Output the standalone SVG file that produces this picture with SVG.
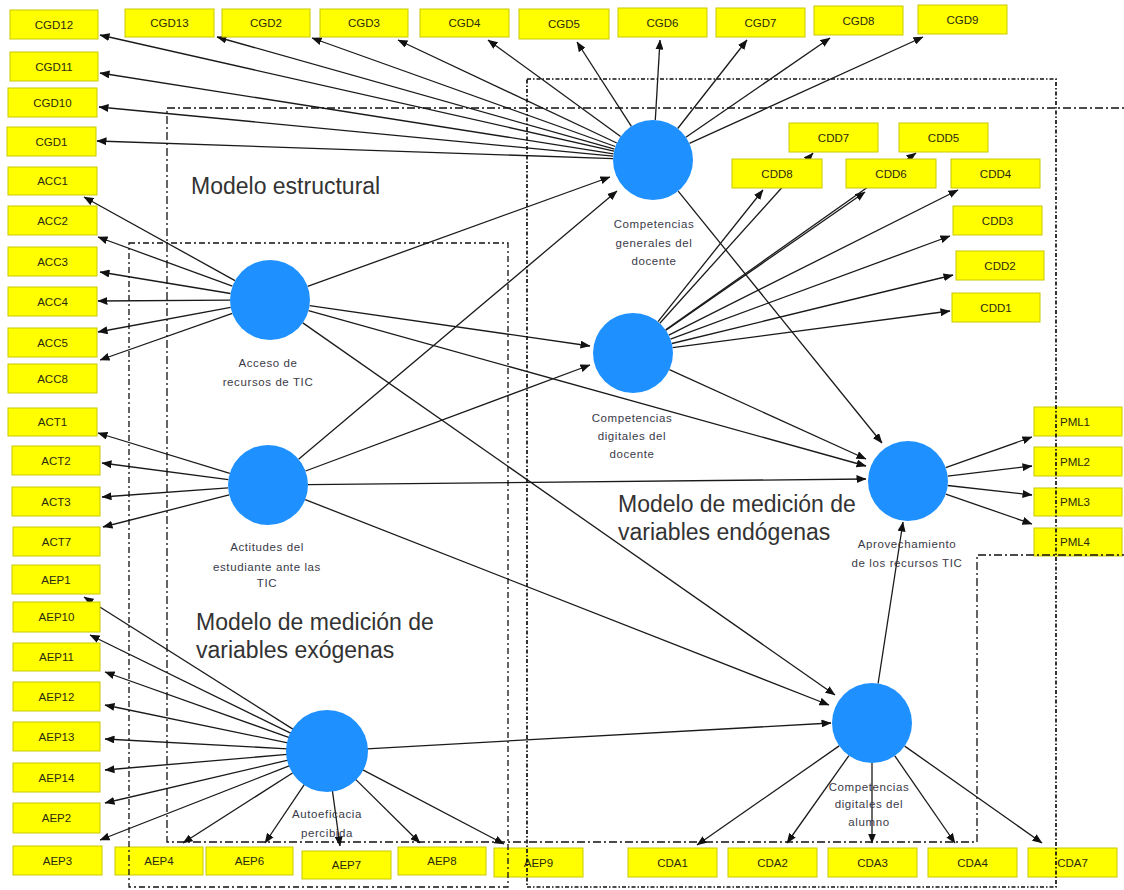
<svg xmlns="http://www.w3.org/2000/svg" width="1124" height="890" viewBox="0 0 1124 890">
<style>
.box{fill:#FFFF00;stroke:#C8C800;stroke-width:1}
.bt{font-family:"Liberation Sans",Arial,sans-serif;font-size:11.5px;fill:#2a2a10;text-anchor:middle}
.lv{fill:#1E90FF}
.cl{font-family:"Liberation Sans",Arial,sans-serif;font-size:11.5px;fill:#3a3a48;text-anchor:middle;letter-spacing:0.6px}
.big{font-family:"Liberation Sans",Arial,sans-serif;font-size:23px;fill:#333}
.c{stroke:#1a1a1a;stroke-width:1.3;fill:none;marker-end:url(#ah)}
.fr{fill:none;stroke:#111}
</style>
<defs>
<marker id="ah" markerWidth="10" markerHeight="8" refX="9.5" refY="4" orient="auto" markerUnits="userSpaceOnUse"><path d="M0,0 L10,4 L0,8 z" fill="#111"/></marker>
</defs>
<rect width="1124" height="890" fill="#fff"/>

<g id="labels">
<text class="big" x="191" y="194">Modelo estructural</text>
<text class="big" x="196" y="630">Modelo de medición de</text>
<text class="big" x="196" y="658">variables exógenas</text>
<text class="big" x="618" y="512">Modelo de medición de</text>
<text class="big" x="618" y="540">variables endógenas</text>
</g>

<g id="connectors">
<line class="c" x1="614" y1="151.2" x2="100" y2="35"/>
<line class="c" x1="614.5" y1="149.1" x2="217" y2="37"/>
<line class="c" x1="615.3" y1="146.5" x2="312" y2="38"/>
<line class="c" x1="616.8" y1="143" x2="398" y2="40"/>
<line class="c" x1="620.6" y1="136.5" x2="488" y2="40"/>
<line class="c" x1="631.4" y1="126.4" x2="577" y2="42"/>
<line class="c" x1="655.3" y1="120.1" x2="660" y2="40"/>
<line class="c" x1="677.7" y1="128.5" x2="747" y2="40"/>
<line class="c" x1="685.9" y1="137.3" x2="830" y2="38"/>
<line class="c" x1="689.4" y1="143.4" x2="923" y2="37"/>
<line class="c" x1="613.5" y1="153.8" x2="100" y2="73"/>
<line class="c" x1="613.2" y1="156.2" x2="99" y2="107"/>
<line class="c" x1="613" y1="158.6" x2="97" y2="141"/>
<line class="c" x1="235" y1="280.6" x2="84" y2="197"/>
<line class="c" x1="232.4" y1="286.2" x2="98" y2="237"/>
<line class="c" x1="230.5" y1="293.5" x2="100" y2="272"/>
<line class="c" x1="230" y1="300.2" x2="98" y2="301"/>
<line class="c" x1="230.7" y1="307.3" x2="98" y2="332"/>
<line class="c" x1="232.3" y1="313.3" x2="100" y2="360"/>
<line class="c" x1="307.6" y1="286.4" x2="610" y2="177"/>
<line class="c" x1="309.6" y1="305.7" x2="590" y2="346"/>
<line class="c" x1="308.5" y1="310.7" x2="866" y2="466"/>
<line class="c" x1="302.8" y1="322.9" x2="835" y2="695"/>
<line class="c" x1="229.8" y1="473.3" x2="98" y2="433"/>
<line class="c" x1="228.4" y1="479.7" x2="102" y2="463"/>
<line class="c" x1="228.1" y1="487.9" x2="102" y2="497"/>
<line class="c" x1="229.2" y1="494.9" x2="103" y2="527"/>
<line class="c" x1="298.6" y1="459.2" x2="617" y2="191"/>
<line class="c" x1="305.5" y1="471" x2="590" y2="365"/>
<line class="c" x1="308" y1="484.6" x2="866" y2="479"/>
<line class="c" x1="305.2" y1="499.6" x2="829" y2="705"/>
<line class="c" x1="293.3" y1="729.4" x2="84" y2="597"/>
<line class="c" x1="291.1" y1="733.4" x2="90" y2="635"/>
<line class="c" x1="289.3" y1="737.6" x2="105" y2="672"/>
<line class="c" x1="287.8" y1="742.9" x2="105" y2="705"/>
<line class="c" x1="287.1" y1="748.8" x2="105" y2="739"/>
<line class="c" x1="287.1" y1="754.4" x2="105" y2="770"/>
<line class="c" x1="288.1" y1="760.1" x2="105" y2="803"/>
<line class="c" x1="289.8" y1="765.6" x2="100" y2="840"/>
<line class="c" x1="293.3" y1="772.5" x2="183" y2="843"/>
<line class="c" x1="304.6" y1="784.2" x2="265" y2="843"/>
<line class="c" x1="332.4" y1="790.6" x2="340" y2="846"/>
<line class="c" x1="355.4" y1="779.1" x2="420" y2="843"/>
<line class="c" x1="362.4" y1="769.6" x2="504" y2="844"/>
<line class="c" x1="366.9" y1="748.8" x2="831" y2="723"/>
<line class="c" x1="658" y1="321.7" x2="763" y2="190"/>
<line class="c" x1="659.8" y1="323.3" x2="813" y2="153"/>
<line class="c" x1="665.9" y1="330.2" x2="865" y2="192"/>
<line class="c" x1="665.7" y1="329.9" x2="916" y2="153"/>
<line class="c" x1="668.8" y1="335.1" x2="958" y2="190"/>
<line class="c" x1="670.5" y1="339.2" x2="950" y2="236"/>
<line class="c" x1="671.9" y1="343.5" x2="953" y2="275"/>
<line class="c" x1="672.6" y1="347.7" x2="950" y2="311"/>
<line class="c" x1="669.4" y1="369.6" x2="866" y2="459"/>
<line class="c" x1="678.2" y1="191.1" x2="882" y2="443"/>
<line class="c" x1="945.7" y1="467.6" x2="1032" y2="437"/>
<line class="c" x1="947.7" y1="476.2" x2="1032" y2="466"/>
<line class="c" x1="947.7" y1="485.5" x2="1032" y2="495"/>
<line class="c" x1="945.8" y1="494.1" x2="1032" y2="524"/>
<line class="c" x1="878.1" y1="683.5" x2="903" y2="522"/>
<line class="c" x1="839.2" y1="745.9" x2="697" y2="845"/>
<line class="c" x1="848.9" y1="755.6" x2="787" y2="843"/>
<line class="c" x1="872" y1="763" x2="872" y2="843"/>
<line class="c" x1="894.8" y1="755.9" x2="955" y2="843"/>
<line class="c" x1="904.7" y1="746.1" x2="1042" y2="843"/>
</g>

<g id="n-CGD12"><rect class="box" x="10" y="10" width="88" height="29"/><text class="bt" x="54" y="28.5">CGD12</text></g>
<g id="n-CGD13"><rect class="box" x="125" y="9" width="89" height="28"/><text class="bt" x="169.5" y="27">CGD13</text></g>
<g id="n-CGD2"><rect class="box" x="222" y="9" width="88" height="28"/><text class="bt" x="266" y="27">CGD2</text></g>
<g id="n-CGD3"><rect class="box" x="320" y="9" width="88" height="28"/><text class="bt" x="364" y="27">CGD3</text></g>
<g id="n-CGD4"><rect class="box" x="420" y="9" width="89" height="28"/><text class="bt" x="464.5" y="27">CGD4</text></g>
<g id="n-CGD5"><rect class="box" x="519" y="9" width="90" height="30"/><text class="bt" x="564" y="28">CGD5</text></g>
<g id="n-CGD6"><rect class="box" x="618" y="8" width="89" height="29"/><text class="bt" x="662.5" y="26.5">CGD6</text></g>
<g id="n-CGD7"><rect class="box" x="716" y="8" width="89" height="29"/><text class="bt" x="760.5" y="26.5">CGD7</text></g>
<g id="n-CGD8"><rect class="box" x="814" y="6" width="89" height="29"/><text class="bt" x="858.5" y="24.5">CGD8</text></g>
<g id="n-CGD9"><rect class="box" x="918" y="5" width="89" height="29"/><text class="bt" x="962.5" y="23.5">CGD9</text></g>

<g id="n-CGD11"><rect class="box" x="10" y="52" width="88" height="29"/><text class="bt" x="54" y="70.5">CGD11</text></g>
<g id="n-CGD10"><rect class="box" x="8" y="88" width="89" height="29"/><text class="bt" x="52.5" y="106.5">CGD10</text></g>
<g id="n-CGD1"><rect class="box" x="7" y="127" width="89" height="29"/><text class="bt" x="51.5" y="145.5">CGD1</text></g>
<g id="n-ACC1"><rect class="box" x="8" y="167" width="89" height="28"/><text class="bt" x="52.5" y="185">ACC1</text></g>
<g id="n-ACC2"><rect class="box" x="8" y="206" width="89" height="29"/><text class="bt" x="52.5" y="224.5">ACC2</text></g>
<g id="n-ACC3"><rect class="box" x="8" y="247" width="89" height="29"/><text class="bt" x="52.5" y="265.5">ACC3</text></g>
<g id="n-ACC4"><rect class="box" x="8" y="287" width="89" height="29"/><text class="bt" x="52.5" y="305.5">ACC4</text></g>
<g id="n-ACC5"><rect class="box" x="8" y="328" width="89" height="29"/><text class="bt" x="52.5" y="346.5">ACC5</text></g>
<g id="n-ACC8"><rect class="box" x="8" y="364" width="89" height="29"/><text class="bt" x="52.5" y="382.5">ACC8</text></g>
<g id="n-ACT1"><rect class="box" x="8" y="408" width="89" height="28"/><text class="bt" x="52.5" y="426">ACT1</text></g>
<g id="n-ACT2"><rect class="box" x="12" y="446" width="88" height="29"/><text class="bt" x="56" y="464.5">ACT2</text></g>
<g id="n-ACT3"><rect class="box" x="12" y="487" width="88" height="29"/><text class="bt" x="56" y="505.5">ACT3</text></g>
<g id="n-ACT7"><rect class="box" x="13" y="527" width="87" height="29"/><text class="bt" x="56.5" y="545.5">ACT7</text></g>
<g id="n-AEP1"><rect class="box" x="12" y="565" width="88" height="29"/><text class="bt" x="56" y="583.5">AEP1</text></g>
<g id="n-AEP10"><rect class="box" x="13" y="602" width="87" height="30"/><text class="bt" x="56.5" y="621">AEP10</text></g>
<g id="n-AEP11"><rect class="box" x="13" y="643" width="87" height="28"/><text class="bt" x="56.5" y="661">AEP11</text></g>
<g id="n-AEP12"><rect class="box" x="13" y="682" width="87" height="29"/><text class="bt" x="56.5" y="700.5">AEP12</text></g>
<g id="n-AEP13"><rect class="box" x="13" y="722" width="87" height="29"/><text class="bt" x="56.5" y="740.5">AEP13</text></g>
<g id="n-AEP14"><rect class="box" x="13" y="763" width="87" height="29"/><text class="bt" x="56.5" y="781.5">AEP14</text></g>
<g id="n-AEP2"><rect class="box" x="13" y="803" width="87" height="30"/><text class="bt" x="56.5" y="822">AEP2</text></g>
<g id="n-AEP3"><rect class="box" x="13" y="846" width="89" height="29"/><text class="bt" x="57.5" y="864.5">AEP3</text></g>

<g id="n-AEP4"><rect class="box" x="115" y="847" width="88" height="28"/><text class="bt" x="159" y="865">AEP4</text></g>
<g id="n-AEP6"><rect class="box" x="206" y="847" width="87" height="28"/><text class="bt" x="249.5" y="865">AEP6</text></g>
<g id="n-AEP7"><rect class="box" x="302" y="851" width="89" height="28"/><text class="bt" x="346.5" y="869">AEP7</text></g>
<g id="n-AEP8"><rect class="box" x="398" y="847" width="88" height="28"/><text class="bt" x="442" y="865">AEP8</text></g>
<g id="n-AEP9"><rect class="box" x="494" y="848" width="89" height="29"/><text class="bt" x="538.5" y="866.5">AEP9</text></g>
<g id="n-CDA1"><rect class="box" x="628" y="848" width="89" height="29"/><text class="bt" x="672.5" y="866.5">CDA1</text></g>
<g id="n-CDA2"><rect class="box" x="728" y="848" width="89" height="29"/><text class="bt" x="772.5" y="866.5">CDA2</text></g>
<g id="n-CDA3"><rect class="box" x="828" y="848" width="89" height="29"/><text class="bt" x="872.5" y="866.5">CDA3</text></g>
<g id="n-CDA4"><rect class="box" x="928" y="848" width="89" height="29"/><text class="bt" x="972.5" y="866.5">CDA4</text></g>
<g id="n-CDA7"><rect class="box" x="1028" y="848" width="89" height="29"/><text class="bt" x="1072.5" y="866.5">CDA7</text></g>

<g id="n-CDD7"><rect class="box" x="789" y="123" width="89" height="29"/><text class="bt" x="833.5" y="141.5">CDD7</text></g>
<g id="n-CDD5"><rect class="box" x="899" y="123" width="89" height="29"/><text class="bt" x="943.5" y="141.5">CDD5</text></g>
<g id="n-CDD8"><rect class="box" x="732" y="159" width="90" height="29"/><text class="bt" x="777" y="177.5">CDD8</text></g>
<g id="n-CDD6"><rect class="box" x="846" y="159" width="90" height="29"/><text class="bt" x="891" y="177.5">CDD6</text></g>
<g id="n-CDD4"><rect class="box" x="951" y="159" width="89" height="29"/><text class="bt" x="995.5" y="177.5">CDD4</text></g>
<g id="n-CDD3"><rect class="box" x="953" y="206" width="89" height="29"/><text class="bt" x="997.5" y="224.5">CDD3</text></g>
<g id="n-CDD2"><rect class="box" x="956" y="251" width="88" height="29"/><text class="bt" x="1000" y="269.5">CDD2</text></g>
<g id="n-CDD1"><rect class="box" x="952" y="293" width="88" height="29"/><text class="bt" x="996" y="311.5">CDD1</text></g>
<g id="n-PML1"><rect class="box" x="1034" y="407" width="88" height="29"/><text class="bt" x="1075" y="425.5">PML1</text></g>
<g id="n-PML2"><rect class="box" x="1034" y="447" width="88" height="29"/><text class="bt" x="1075" y="465.5">PML2</text></g>
<g id="n-PML3"><rect class="box" x="1034" y="488" width="88" height="28"/><text class="bt" x="1075" y="506">PML3</text></g>
<g id="n-PML4"><rect class="box" x="1034" y="528" width="88" height="28"/><text class="bt" x="1075" y="546">PML4</text></g>

<g id="lv-CGD"><circle class="lv" cx="653" cy="160" r="40"/><text class="cl" x="654" y="228">Competencias</text><text class="cl" x="654" y="247">generales del</text><text class="cl" x="654" y="265">docente</text></g>
<g id="lv-ACC"><circle class="lv" cx="270" cy="300" r="40"/><text class="cl" x="268" y="367">Acceso de</text><text class="cl" x="268" y="386">recursos de TIC</text></g>
<g id="lv-CDD"><circle class="lv" cx="633" cy="353" r="40"/><text class="cl" x="632" y="422">Competencias</text><text class="cl" x="632" y="440">digitales del</text><text class="cl" x="632" y="458">docente</text></g>
<g id="lv-ACT"><circle class="lv" cx="268" cy="485" r="40"/><text class="cl" x="267" y="551">Actitudes del</text><text class="cl" x="267" y="571">estudiante ante las</text><text class="cl" x="267" y="587">TIC</text></g>
<g id="lv-PML"><circle class="lv" cx="908" cy="481" r="40"/><text class="cl" x="907" y="548">Aprovechamiento</text><text class="cl" x="907" y="567">de los recursos TIC</text></g>
<g id="lv-AEP"><circle class="lv" cx="327" cy="751" r="41"/><text class="cl" x="327" y="818">Autoeficacia</text><text class="cl" x="327" y="837">percibida</text></g>
<g id="lv-CDA"><circle class="lv" cx="872" cy="723" r="40"/><text class="cl" x="869" y="791">Competencias</text><text class="cl" x="869" y="808">digitales del</text><text class="cl" x="869" y="826">alumno</text></g>

<g id="frames">
<rect class="fr" x="527" y="79" width="529" height="808" stroke-width="1.7" stroke-dasharray="4 2 1.5 2"/>
<path class="fr" d="M167,108 H1130 M1130,555 H977 V842 H167 V108" stroke-width="1.3" stroke-dasharray="8 3 2 3"/>
<rect class="fr" x="129" y="243" width="379" height="644" stroke-width="1.3" stroke-dasharray="6 3 2 3"/>
</g>
</svg>
